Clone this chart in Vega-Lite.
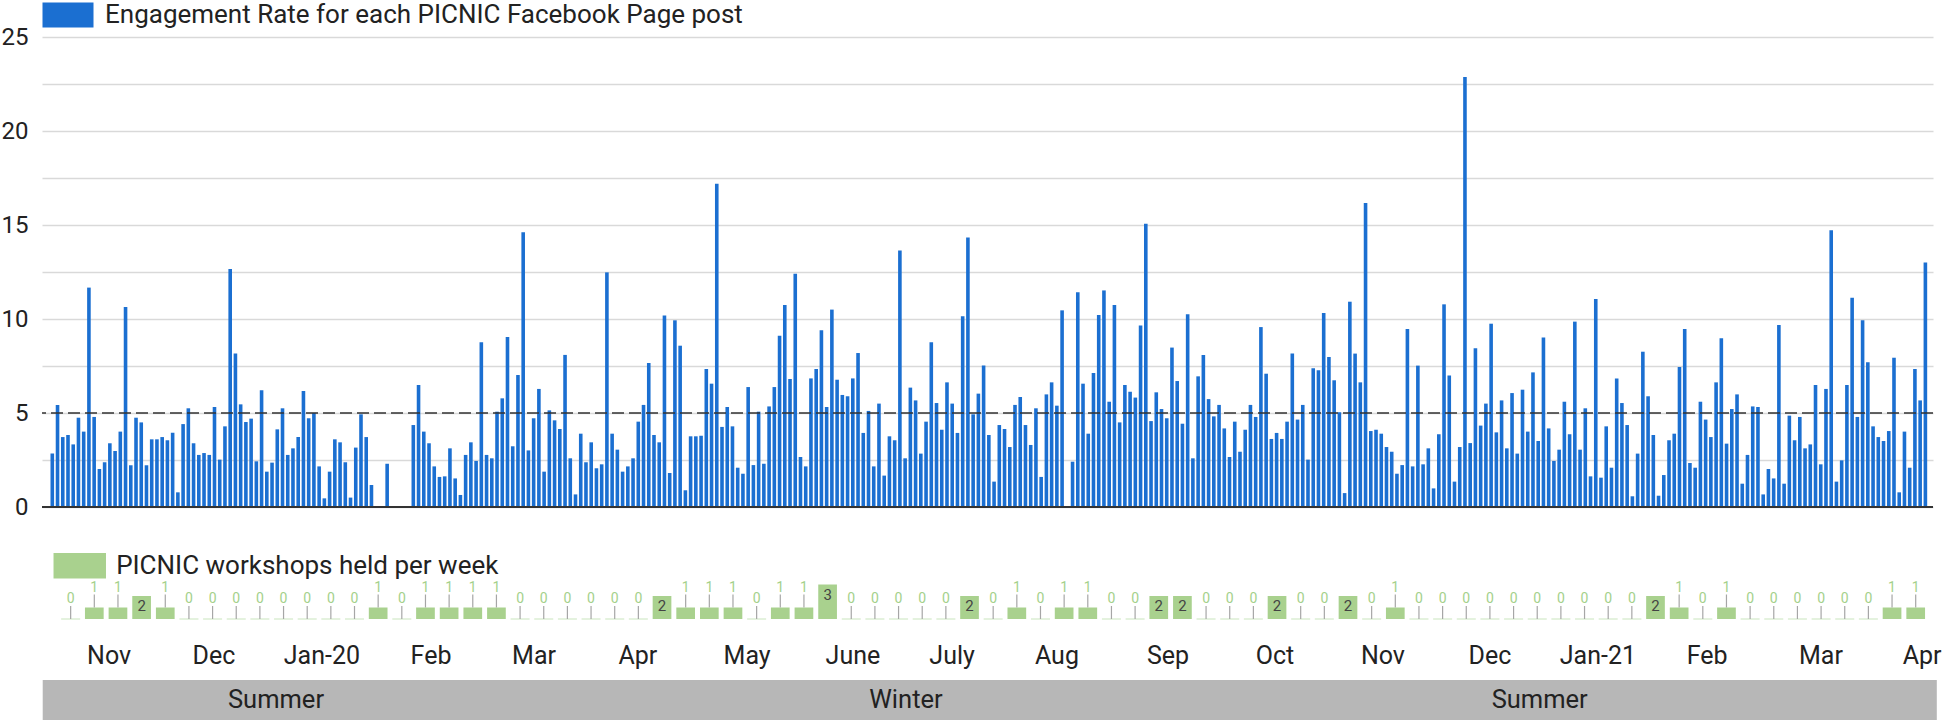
{
  "$schema": "https://vega.github.io/schema/vega-lite/v6.json",
  "background": "white",
  "padding": {"left": 1, "top": 2, "right": 0, "bottom": 0},
  "spacing": 0,
  "bounds": "flush",
  "config": {"view": {"stroke": null}, "font": "Roboto", "text": {"font": "Roboto"}},
  "resolve": {"scale": {"x": "independent", "y": "independent", "color": "independent"}, "legend": {"color": "independent"}},
  "datasets": {
    "posts": [
      {"post":0,"rate":2.84},{"post":1,"rate":5.43},{"post":2,"rate":3.72},{"post":3,"rate":3.83},{"post":4,"rate":3.33},{"post":5,"rate":4.75},{"post":6,"rate":4.01},{"post":7,"rate":11.67},{"post":8,"rate":4.79},{"post":9,"rate":2.02},
      {"post":10,"rate":2.38},{"post":11,"rate":3.39},{"post":12,"rate":2.98},{"post":13,"rate":4.01},{"post":14,"rate":10.64},{"post":15,"rate":2.22},{"post":16,"rate":4.75},{"post":17,"rate":4.5},{"post":18,"rate":2.22},{"post":19,"rate":3.6},
      {"post":20,"rate":3.6},{"post":21,"rate":3.72},{"post":22,"rate":3.55},{"post":23,"rate":3.95},{"post":24,"rate":0.78},{"post":25,"rate":4.41},{"post":26,"rate":5.25},{"post":27,"rate":3.39},{"post":28,"rate":2.77},{"post":29,"rate":2.87},
      {"post":30,"rate":2.77},{"post":31,"rate":5.32},{"post":32,"rate":2.52},{"post":33,"rate":4.29},{"post":34,"rate":12.66},{"post":35,"rate":8.16},{"post":36,"rate":5.46},{"post":37,"rate":4.52},{"post":38,"rate":4.7},{"post":39,"rate":2.43},
      {"post":40,"rate":6.21},{"post":41,"rate":1.88},{"post":42,"rate":2.36},{"post":43,"rate":4.13},{"post":44,"rate":5.25},{"post":45,"rate":2.77},{"post":46,"rate":3.12},{"post":47,"rate":3.72},{"post":48,"rate":6.17},{"post":49,"rate":4.72},
      {"post":50,"rate":5.0},{"post":51,"rate":2.16},{"post":52,"rate":0.46},{"post":53,"rate":1.88},{"post":54,"rate":3.6},{"post":55,"rate":3.44},{"post":56,"rate":2.38},{"post":57,"rate":0.5},{"post":58,"rate":3.16},{"post":59,"rate":4.93},
      {"post":60,"rate":3.72},{"post":61,"rate":1.17},{"post":64,"rate":2.3},{"post":69,"rate":4.36},
      {"post":70,"rate":6.49},{"post":71,"rate":4.01},{"post":72,"rate":3.39},{"post":73,"rate":2.16},{"post":74,"rate":1.6},{"post":75,"rate":1.63},{"post":76,"rate":3.12},{"post":77,"rate":1.52},{"post":78,"rate":0.64},{"post":79,"rate":2.77},
      {"post":80,"rate":3.44},{"post":81,"rate":2.45},{"post":82,"rate":8.76},{"post":83,"rate":2.77},{"post":84,"rate":2.59},{"post":85,"rate":5.07},{"post":86,"rate":5.78},{"post":87,"rate":9.04},{"post":88,"rate":3.23},{"post":89,"rate":7.02},
      {"post":90,"rate":14.61},{"post":91,"rate":3.01},{"post":92,"rate":4.72},{"post":93,"rate":6.28},{"post":94,"rate":1.88},{"post":95,"rate":5.14},{"post":96,"rate":4.61},{"post":97,"rate":4.15},{"post":98,"rate":8.09},{"post":99,"rate":2.59},
      {"post":100,"rate":0.67},{"post":101,"rate":3.9},{"post":102,"rate":2.38},{"post":103,"rate":3.44},{"post":104,"rate":2.06},{"post":105,"rate":2.27},{"post":106,"rate":12.48},{"post":107,"rate":3.9},{"post":108,"rate":3.05},{"post":109,"rate":1.88},
      {"post":110,"rate":2.16},{"post":111,"rate":2.59},{"post":112,"rate":4.54},{"post":113,"rate":5.43},{"post":114,"rate":7.66},{"post":115,"rate":3.83},{"post":116,"rate":3.44},{"post":117,"rate":10.18},{"post":118,"rate":1.81},{"post":119,"rate":9.93},
      {"post":120,"rate":8.58},{"post":121,"rate":0.89},{"post":122,"rate":3.76},{"post":123,"rate":3.76},{"post":124,"rate":3.79},{"post":125,"rate":7.34},{"post":126,"rate":6.56},{"post":127,"rate":17.2},{"post":128,"rate":4.26},{"post":129,"rate":5.32},
      {"post":130,"rate":4.29},{"post":131,"rate":2.09},{"post":132,"rate":1.77},{"post":133,"rate":6.38},{"post":134,"rate":2.23},{"post":135,"rate":5.07},{"post":136,"rate":2.3},{"post":137,"rate":5.35},{"post":138,"rate":6.38},{"post":139,"rate":9.11},
      {"post":140,"rate":10.74},{"post":141,"rate":6.81},{"post":142,"rate":12.41},{"post":143,"rate":2.66},{"post":144,"rate":2.16},{"post":145,"rate":6.84},{"post":146,"rate":7.34},{"post":147,"rate":9.4},{"post":148,"rate":5.32},{"post":149,"rate":10.5},
      {"post":150,"rate":6.77},{"post":151,"rate":5.96},{"post":152,"rate":5.89},{"post":153,"rate":6.84},{"post":154,"rate":8.19},{"post":155,"rate":3.94},{"post":156,"rate":5.11},{"post":157,"rate":2.16},{"post":158,"rate":5.5},{"post":159,"rate":1.67},
      {"post":160,"rate":3.76},{"post":161,"rate":3.55},{"post":162,"rate":13.65},{"post":163,"rate":2.59},{"post":164,"rate":6.35},{"post":165,"rate":5.67},{"post":166,"rate":2.84},{"post":167,"rate":4.54},{"post":168,"rate":8.76},{"post":169,"rate":5.53},
      {"post":170,"rate":4.11},{"post":171,"rate":6.63},{"post":172,"rate":5.5},{"post":173,"rate":3.94},{"post":174,"rate":10.14},{"post":175,"rate":14.33},{"post":176,"rate":4.93},{"post":177,"rate":6.03},{"post":178,"rate":7.52},{"post":179,"rate":3.83},
      {"post":180,"rate":1.35},{"post":181,"rate":4.36},{"post":182,"rate":4.15},{"post":183,"rate":3.19},{"post":184,"rate":5.43},{"post":185,"rate":5.85},{"post":186,"rate":4.36},{"post":187,"rate":3.3},{"post":188,"rate":5.25},{"post":189,"rate":1.6},
      {"post":190,"rate":5.99},{"post":191,"rate":6.63},{"post":192,"rate":5.39},{"post":193,"rate":10.46},{"post":195,"rate":2.41},{"post":196,"rate":11.42},{"post":197,"rate":6.56},{"post":198,"rate":3.9},{"post":199,"rate":7.13},
      {"post":200,"rate":10.21},{"post":201,"rate":11.52},{"post":202,"rate":5.6},{"post":203,"rate":10.74},{"post":204,"rate":4.5},{"post":205,"rate":6.49},{"post":206,"rate":6.13},{"post":207,"rate":5.82},{"post":208,"rate":9.65},{"post":209,"rate":15.07},
      {"post":210,"rate":4.57},{"post":211,"rate":6.1},{"post":212,"rate":5.21},{"post":213,"rate":4.72},{"post":214,"rate":8.48},{"post":215,"rate":6.7},{"post":216,"rate":4.43},{"post":217,"rate":10.25},{"post":218,"rate":2.59},{"post":219,"rate":6.95},
      {"post":220,"rate":8.09},{"post":221,"rate":5.74},{"post":222,"rate":4.82},{"post":223,"rate":5.43},{"post":224,"rate":4.18},{"post":225,"rate":2.66},{"post":226,"rate":4.54},{"post":227,"rate":2.94},{"post":228,"rate":4.11},{"post":229,"rate":5.43},
      {"post":230,"rate":4.79},{"post":231,"rate":9.57},{"post":232,"rate":7.09},{"post":233,"rate":3.62},{"post":234,"rate":3.94},{"post":235,"rate":3.62},{"post":236,"rate":4.54},{"post":237,"rate":8.16},{"post":238,"rate":4.65},{"post":239,"rate":5.43},
      {"post":240,"rate":2.52},{"post":241,"rate":7.38},{"post":242,"rate":7.27},{"post":243,"rate":10.32},{"post":244,"rate":7.98},{"post":245,"rate":6.74},{"post":246,"rate":5.04},{"post":247,"rate":0.74},{"post":248,"rate":10.92},{"post":249,"rate":8.16},
      {"post":250,"rate":6.63},{"post":251,"rate":16.17},{"post":252,"rate":4.04},{"post":253,"rate":4.11},{"post":254,"rate":3.9},{"post":255,"rate":3.19},{"post":256,"rate":2.94},{"post":257,"rate":1.77},{"post":258,"rate":2.23},{"post":259,"rate":9.47},
      {"post":260,"rate":2.16},{"post":261,"rate":7.52},{"post":262,"rate":2.27},{"post":263,"rate":3.12},{"post":264,"rate":0.99},{"post":265,"rate":3.87},{"post":266,"rate":10.78},{"post":267,"rate":6.99},{"post":268,"rate":1.35},{"post":269,"rate":3.19},
      {"post":270,"rate":22.87},{"post":271,"rate":3.4},{"post":272,"rate":8.44},{"post":273,"rate":4.33},{"post":274,"rate":5.5},{"post":275,"rate":9.75},{"post":276,"rate":3.97},{"post":277,"rate":5.67},{"post":278,"rate":3.12},{"post":279,"rate":6.06},
      {"post":280,"rate":2.84},{"post":281,"rate":6.24},{"post":282,"rate":4.01},{"post":283,"rate":7.16},{"post":284,"rate":3.51},{"post":285,"rate":9.01},{"post":286,"rate":4.18},{"post":287,"rate":2.45},{"post":288,"rate":3.05},{"post":289,"rate":5.6},
      {"post":290,"rate":3.87},{"post":291,"rate":9.86},{"post":292,"rate":3.05},{"post":293,"rate":5.25},{"post":294,"rate":1.63},{"post":295,"rate":11.06},{"post":296,"rate":1.56},{"post":297,"rate":4.29},{"post":298,"rate":2.09},{"post":299,"rate":6.84},
      {"post":300,"rate":5.53},{"post":301,"rate":4.36},{"post":302,"rate":0.57},{"post":303,"rate":2.84},{"post":304,"rate":8.26},{"post":305,"rate":5.89},{"post":306,"rate":3.83},{"post":307,"rate":0.6},{"post":308,"rate":1.7},{"post":309,"rate":3.55},
      {"post":310,"rate":3.9},{"post":311,"rate":7.45},{"post":312,"rate":9.47},{"post":313,"rate":2.34},{"post":314,"rate":2.09},{"post":315,"rate":5.6},{"post":316,"rate":4.65},{"post":317,"rate":3.72},{"post":318,"rate":6.63},{"post":319,"rate":8.97},
      {"post":320,"rate":3.37},{"post":321,"rate":5.21},{"post":322,"rate":5.99},{"post":323,"rate":1.24},{"post":324,"rate":2.77},{"post":325,"rate":5.35},{"post":326,"rate":5.32},{"post":327,"rate":0.67},{"post":328,"rate":2.02},{"post":329,"rate":1.52},
      {"post":330,"rate":9.68},{"post":331,"rate":1.24},{"post":332,"rate":4.86},{"post":333,"rate":3.55},{"post":334,"rate":4.79},{"post":335,"rate":3.12},{"post":336,"rate":3.33},{"post":337,"rate":6.49},{"post":338,"rate":2.27},{"post":339,"rate":6.28},
      {"post":340,"rate":14.72},{"post":341,"rate":1.35},{"post":342,"rate":2.48},{"post":343,"rate":6.49},{"post":344,"rate":11.13},{"post":345,"rate":4.79},{"post":346,"rate":9.93},{"post":347,"rate":7.7},{"post":348,"rate":4.29},{"post":349,"rate":3.72},
      {"post":350,"rate":3.51},{"post":351,"rate":4.04},{"post":352,"rate":7.94},{"post":353,"rate":0.78},{"post":354,"rate":4.01},{"post":355,"rate":2.09},{"post":356,"rate":7.34},{"post":357,"rate":5.67},{"post":358,"rate":13.01}
    ],
    "weeks": [
      {"week":1,"workshops":0},{"week":2,"workshops":1},{"week":3,"workshops":1},{"week":4,"workshops":2},{"week":5,"workshops":1},{"week":6,"workshops":0},{"week":7,"workshops":0},{"week":8,"workshops":0},{"week":9,"workshops":0},{"week":10,"workshops":0},
      {"week":11,"workshops":0},{"week":12,"workshops":0},{"week":13,"workshops":0},{"week":14,"workshops":1},{"week":15,"workshops":0},{"week":16,"workshops":1},{"week":17,"workshops":1},{"week":18,"workshops":1},{"week":19,"workshops":1},{"week":20,"workshops":0},
      {"week":21,"workshops":0},{"week":22,"workshops":0},{"week":23,"workshops":0},{"week":24,"workshops":0},{"week":25,"workshops":0},{"week":26,"workshops":2},{"week":27,"workshops":1},{"week":28,"workshops":1},{"week":29,"workshops":1},{"week":30,"workshops":0},
      {"week":31,"workshops":1},{"week":32,"workshops":1},{"week":33,"workshops":3},{"week":34,"workshops":0},{"week":35,"workshops":0},{"week":36,"workshops":0},{"week":37,"workshops":0},{"week":38,"workshops":0},{"week":39,"workshops":2},{"week":40,"workshops":0},
      {"week":41,"workshops":1},{"week":42,"workshops":0},{"week":43,"workshops":1},{"week":44,"workshops":1},{"week":45,"workshops":0},{"week":46,"workshops":0},{"week":47,"workshops":2},{"week":48,"workshops":2},{"week":49,"workshops":0},{"week":50,"workshops":0},
      {"week":51,"workshops":0},{"week":52,"workshops":2},{"week":53,"workshops":0},{"week":54,"workshops":0},{"week":55,"workshops":2},{"week":56,"workshops":0},{"week":57,"workshops":1},{"week":58,"workshops":0},{"week":59,"workshops":0},{"week":60,"workshops":0},
      {"week":61,"workshops":0},{"week":62,"workshops":0},{"week":63,"workshops":0},{"week":64,"workshops":0},{"week":65,"workshops":0},{"week":66,"workshops":0},{"week":67,"workshops":0},{"week":68,"workshops":2},{"week":69,"workshops":1},{"week":70,"workshops":0},
      {"week":71,"workshops":1},{"week":72,"workshops":0},{"week":73,"workshops":0},{"week":74,"workshops":0},{"week":75,"workshops":0},{"week":76,"workshops":0},{"week":77,"workshops":0},{"week":78,"workshops":1},{"week":79,"workshops":1}
    ],
    "months": [
      {"month":"Nov","pos":2.82},{"month":"Dec","pos":7.23},{"month":"Jan-20","pos":11.77},{"month":"Feb","pos":16.36},{"month":"Mar","pos":20.69},{"month":"Apr","pos":25.06},
      {"month":"May","pos":29.65},{"month":"June","pos":34.1},{"month":"July","pos":38.27},{"month":"Aug","pos":42.68},{"month":"Sep","pos":47.35},{"month":"Oct","pos":51.85},
      {"month":"Nov","pos":56.39},{"month":"Dec","pos":60.89},{"month":"Jan-21","pos":65.43},{"month":"Feb","pos":70.02},{"month":"Mar","pos":74.81},{"month":"Apr","pos":79.06}
    ],
    "seasons": [
      {"season":"Summer","start":0.03,"end":19.7,"labelAt":9.84},
      {"season":"Winter","start":19.7,"end":52.9,"labelAt":36.33},
      {"season":"Summer","start":52.9,"end":79.68,"labelAt":62.98}
    ]
  },
  "vconcat": [
    {
      "width": 1891,
      "height": 470,
      "layer": [
        {
          "data": {"name": "posts"},
          "mark": {"type": "bar", "width": 3.6},
          "encoding": {
            "x": {"field": "post", "type": "quantitative", "scale": {"domain": [-1.013, 358.5], "nice": false, "zero": false}, "axis": null},
            "y": {"field": "rate", "type": "quantitative", "scale": {"domain": [0, 25], "nice": false},
              "axis": {"title": null, "values": [0, 2.5, 5, 7.5, 10, 12.5, 15, 17.5, 20, 22.5, 25], "labelExpr": "datum.value % 5 === 0 ? datum.label : ''", "grid": true, "gridColor": "#d9d9d9", "gridWidth": 1.5, "domain": false, "ticks": false, "labelFontSize": 24, "labelFont": "Roboto", "labelColor": "#222222", "labelPadding": 14}},
            "color": {"datum": "Engagement Rate for each PICNIC Facebook Page post", "type": "nominal", "scale": {"range": ["#1b6fd1"]},
              "legend": {"title": null, "orient": "none", "legendX": 13, "legendY": -35, "padding": 0, "symbolType": "M-2.04,-1H2.04V1H-2.04Z", "symbolSize": 625, "symbolStrokeWidth": 0, "symbolOpacity": 1, "labelFontSize": 26, "labelFont": "Roboto", "labelColor": "#222222", "labelLimit": 2000, "labelOffset": 24}}
          }
        },
        {
          "data": {"values": [{}]},
          "mark": {"type": "rule", "color": "#333333", "strokeWidth": 1.5, "strokeDash": [12, 5]},
          "encoding": {"y": {"datum": 5, "type": "quantitative"}}
        },
        {
          "data": {"values": [{}]},
          "mark": {"type": "rule", "color": "#333333", "strokeWidth": 2},
          "encoding": {"y": {"datum": 0, "type": "quantitative"}}
        }
      ]
    },
    {
      "width": 1891,
      "height": 112,
      "data": {"name": "weeks"},
      "encoding": {
        "x": {"field": "week", "type": "quantitative", "scale": {"domain": [0, 79.52], "nice": false, "zero": false}, "axis": null}
      },
      "layer": [
        {
          "transform": [{"filter": "datum.workshops == 0"}],
          "mark": {"type": "tick", "orient": "horizontal", "size": 19, "thickness": 2, "color": "#d9ecd0"},
          "encoding": {"y": {"datum": 0, "type": "quantitative", "scale": {"domain": [0, 9.74], "nice": false}, "axis": null}}
        },
        {
          "mark": {"type": "bar", "width": 18.7},
          "encoding": {
            "y": {"field": "workshops", "type": "quantitative", "scale": {"domain": [0, 9.74], "nice": false}, "axis": null},
            "color": {"datum": "PICNIC workshops held per week", "type": "nominal", "scale": {"range": ["#a9d18e"]},
              "legend": {"title": null, "orient": "none", "legendX": 24.75, "legendY": 45.7, "padding": 0, "symbolType": "M-2.05,-1H2.05V1H-2.05Z", "symbolSize": 655, "symbolStrokeWidth": 0, "symbolOpacity": 1, "labelFontSize": 26, "labelFont": "Roboto", "labelColor": "#222222", "labelLimit": 2000, "labelOffset": 23.4}}
          }
        },
        {
          "transform": [{"filter": "datum.workshops <= 1"}],
          "mark": {"type": "rule", "color": "#a6a6a6", "strokeWidth": 1.2, "y2Offset": -13},
          "encoding": {
            "y": {"field": "workshops", "type": "quantitative"},
            "y2": {"field": "workshops"}
          }
        },
        {
          "transform": [{"filter": "datum.workshops <= 1"}],
          "mark": {"type": "text", "baseline": "alphabetic", "dy": -16, "fontSize": 14, "color": "#a4d18b", "font": "Roboto"},
          "encoding": {
            "y": {"field": "workshops", "type": "quantitative"},
            "text": {"field": "workshops", "type": "quantitative"}
          }
        },
        {
          "transform": [{"filter": "datum.workshops >= 2"}],
          "mark": {"type": "text", "baseline": "middle", "dy": 10, "fontSize": 15, "color": "#444444", "font": "Roboto"},
          "encoding": {
            "y": {"field": "workshops", "type": "quantitative"},
            "text": {"field": "workshops", "type": "quantitative"}
          }
        }
      ]
    },
    {
      "width": 1891,
      "height": 61,
      "data": {"name": "months"},
      "mark": {"type": "text", "fontSize": 25, "color": "#222222", "baseline": "middle", "dy": 6.5, "font": "Roboto"},
      "encoding": {
        "x": {"field": "pos", "type": "quantitative", "scale": {"domain": [0, 79.52], "nice": false, "zero": false}, "axis": null},
        "text": {"field": "month", "type": "nominal"}
      }
    },
    {
      "width": 1891,
      "height": 40,
      "data": {"name": "seasons"},
      "layer": [
        {
          "transform": [{"aggregate": [{"op": "min", "field": "start", "as": "bandStart"}, {"op": "max", "field": "end", "as": "bandEnd"}]}],
          "mark": {"type": "rect", "color": "#b7b7b7", "opacity": 1, "strokeWidth": 0},
          "encoding": {
            "x": {"field": "bandStart", "type": "quantitative", "scale": {"domain": [0, 79.52], "nice": false, "zero": false}, "axis": null},
            "x2": {"field": "bandEnd"}
          }
        },
        {
          "mark": {"type": "text", "fontSize": 25.5, "color": "#222222", "baseline": "middle", "font": "Roboto"},
          "encoding": {
            "x": {"field": "labelAt", "type": "quantitative"},
            "text": {"field": "season", "type": "nominal"}
          }
        }
      ]
    }
  ]
}
